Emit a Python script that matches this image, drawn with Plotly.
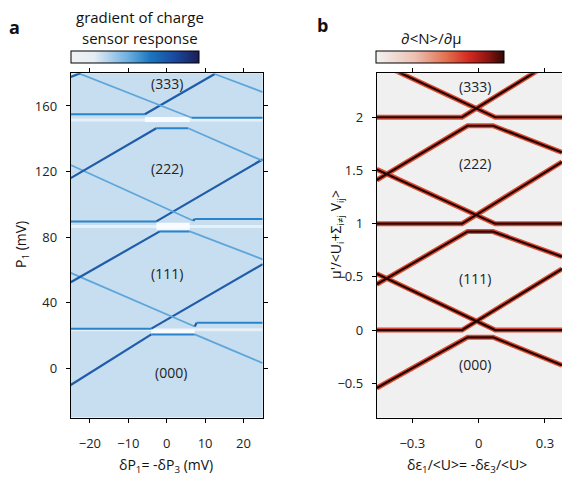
import plotly.graph_objects as go

W, H = 562, 479
FONT = "Open Sans"

# ---------------- panel a data (δP1 in mV, P1 in mV) ----------------
a_A0_x = [-25.0, -4.0, 25.0];          a_A0_y = [24.2, 24.2, 63.5]
a_A1_x = [-25.0, -2.7, 25.0];          a_A1_y = [89.6, 89.6, 127.5]
a_A2_x = [-25.0, -5.7, 12.5];          a_A2_y = [155.0, 155.0, 179.5]
a_B0_x = [-25.0, 7.3, 7.8, 25.0];      a_B0_y = [58.2, 25.5, 27.8, 27.8]
a_B1_x = [-25.0, 6.9, 7.3, 25.0];      a_B1_y = [124.0, 90.0, 91.1, 91.1]
a_B2_x = [-23.0, 6.0, 6.5, 25.0];      a_B2_y = [180.0, 153.3, 152.9, 152.9]
a_C0_x = [-25.0, -4.0, 7.3, 25.0];     a_C0_y = [-10.2, 20.7, 20.7, 3.2]
a_C1_x = [-25.0, -1.8, 6.0, 25.0];     a_C1_y = [52.5, 83.5, 83.5, 66.5]
a_C2_x = [-25.0, -2.7, 5.6, 25.0];     a_C2_y = [116.0, 146.4, 146.4, 126.5]
a_C3_x = [-25.0, -22.5];               a_C3_y = [177.7, 180.0]
a_D_x = [12.5, 25.0];                  a_D_y = [179.5, 168.5]

# white (negative gradient) bands in panel a
a_gap_x = [[-4.0, 7.3], [-2.7, 6.0], [-5.7, 6.0]]
a_gap_y = [22.4, 86.6, 151.8]
a_gap_w = [4, 7, 5]
a_stripe_y = [23.5, 86.5, 151.5]

a_labels = ["(333)", "(222)", "(111)", "(000)"]
a_label_x = [0.0, 0.0, 0.0, 1.1]
a_label_y = [174.0, 122.0, 58.0, -2.3]

a_xticks = [-20, -10, 0, 10, 20]
a_yticks = [0, 40, 80, 120, 160]

# ---------------- panel b data (δε1/<U>, μ'/<...>) ----------------
b_A0_x = [-0.461, -0.075, 0.377];         b_A0_y = [0.0, 0.0, 0.575]
b_A1_x = [-0.461, -0.075, 0.377];         b_A1_y = [1.0, 1.0, 1.58]
b_A2_x = [-0.461, -0.075, 0.377];         b_A2_y = [2.0, 2.0, 2.58]
b_B0_x = [-0.461, 0.075, 0.377];          b_B0_y = [0.53, 0.0, 0.0]
b_B1_x = [-0.461, 0.075, 0.377];          b_B1_y = [1.51, 1.0, 1.0]
b_B2_x = [-0.461, 0.075, 0.377];          b_B2_y = [2.52, 2.0, 2.0]
b_C0_x = [-0.461, -0.05, 0.065, 0.377];   b_C0_y = [-0.545, -0.068, -0.068, -0.33]
b_C1_x = [-0.461, -0.05, 0.065, 0.377];   b_C1_y = [0.43, 0.925, 0.925, 0.69]
b_C2_x = [-0.461, -0.05, 0.065, 0.377];   b_C2_y = [1.41, 1.92, 1.92, 1.67]

b_labels = ["(333)", "(222)", "(111)", "(000)"]
b_label_x = [-0.018, -0.015, -0.015, -0.015]
b_label_y = [2.29, 1.57, 0.48, -0.32]

b_xticks = [-0.3, 0, 0.3]
b_yticks = [-0.5, 0, 0.5, 1, 1.5, 2]

# ---------------- layout geometry ----------------
def px(x): return x / W
def py(y): return 1 - y / H

a_xdom = [px(70.7), px(262.7)]
b_xdom = [px(376.7), 1.0]
ydom = [py(417.5), py(73.2)]

fig = go.Figure()

# panel a: white bands
for yv in a_stripe_y:
    fig.add_trace(go.Scatter(x=[-25, 25], y=[yv, yv], mode="lines",
                             line=dict(color="rgba(255,255,255,0.55)", width=3),
                             xaxis="x", yaxis="y", hoverinfo="skip", showlegend=False))
for xs, yv, wv in zip(a_gap_x, a_gap_y, a_gap_w):
    fig.add_trace(go.Scatter(x=xs, y=[yv, yv], mode="lines",
                             line=dict(color="rgba(250,252,255,0.95)", width=wv),
                             xaxis="x", yaxis="y", hoverinfo="skip", showlegend=False))

a_lines = [(a_A0_x, a_A0_y), (a_A1_x, a_A1_y), (a_A2_x, a_A2_y),
           (a_B0_x, a_B0_y), (a_B1_x, a_B1_y), (a_B2_x, a_B2_y),
           (a_C0_x, a_C0_y), (a_C1_x, a_C1_y), (a_C2_x, a_C2_y),
           (a_C3_x, a_C3_y), (a_D_x, a_D_y)]

def seg_style(x0, y0, x1, y1):
    s = (y1 - y0) / (x1 - x0)
    if s > 0.3:
        return "#1f5caa", 2.2
    if s < -0.3:
        return "#5ea6da", 1.8
    return "#2a84cc", 2.0

for xs, ys in a_lines:
    for i in range(len(xs) - 1):
        c, w = seg_style(xs[i], ys[i], xs[i + 1], ys[i + 1])
        fig.add_trace(go.Scatter(x=xs[i:i + 2], y=ys[i:i + 2], mode="lines",
                                 line=dict(color=c, width=w),
                                 xaxis="x", yaxis="y", hoverinfo="skip", showlegend=False))

# panel b lines: red glow + dark core
b_lines = [(b_A0_x, b_A0_y), (b_A1_x, b_A1_y), (b_A2_x, b_A2_y),
           (b_B0_x, b_B0_y), (b_B1_x, b_B1_y), (b_B2_x, b_B2_y),
           (b_C0_x, b_C0_y), (b_C1_x, b_C1_y), (b_C2_x, b_C2_y)]
for xs, ys in b_lines:
    fig.add_trace(go.Scatter(x=xs, y=ys, mode="lines",
                             line=dict(color="#dd4a2e", width=5),
                             xaxis="x2", yaxis="y2", hoverinfo="skip", showlegend=False))
for xs, ys in b_lines:
    fig.add_trace(go.Scatter(x=xs, y=ys, mode="lines",
                             line=dict(color="#230604", width=2.2),
                             xaxis="x2", yaxis="y2", hoverinfo="skip", showlegend=False))

# colorbars (dummy traces outside visible ranges)
cs_a = [[0, "#f2f2f2"], [0.18, "#e4edf5"], [0.45, "#6aaedf"], [0.62, "#1b76c0"],
        [0.82, "#1a479c"], [1, "#1b1d55"]]
cs_b = [[0, "#f2f2f2"], [0.3, "#ecc2b4"], [0.55, "#e2704f"], [0.72, "#d52a22"],
        [0.88, "#8a1410"], [1, "#300806"]]

def cbar(xc, cs):
    return dict(color=[0, 1], cmin=0, cmax=1, colorscale=cs, showscale=True, size=1,
                colorbar=dict(orientation="h", xref="paper", yref="paper",
                              x=xc, xanchor="center", y=py(50.7), yanchor="top",
                              len=128, lenmode="pixels", thickness=12, thicknessmode="pixels",
                              outlinewidth=1, outlinecolor="black", xpad=0, ypad=0,
                              showticklabels=False, ticks=""))

fig.add_trace(go.Scatter(x=[0, 0], y=[-1000, -1000], mode="markers", marker=cbar(px(135), cs_a),
                         xaxis="x", yaxis="y", hoverinfo="skip", showlegend=False))
fig.add_trace(go.Scatter(x=[0, 0], y=[-1000, -1000], mode="markers", marker=cbar(px(440), cs_b),
                         xaxis="x2", yaxis="y2", hoverinfo="skip", showlegend=False))

axis_common = dict(showgrid=False, zeroline=False, showline=True, linecolor="black", linewidth=1,
                   ticks="outside", ticklen=4, tickwidth=1, tickcolor="black",
                   tickfont=dict(family=FONT, size=13, color="#222"))

fig.update_layout(
    width=W, height=H, margin=dict(l=0, r=0, t=0, b=0, autoexpand=False),
    paper_bgcolor="white", plot_bgcolor="white",
    xaxis=dict(domain=a_xdom, range=[-25, 25], tickvals=a_xticks, mirror="allticks",
               anchor="y", ticklabelstandoff=10, **axis_common),
    yaxis=dict(domain=ydom, range=[-30, 180], tickvals=a_yticks, mirror="allticks",
               anchor="x", ticklabelstandoff=6, **axis_common),
    xaxis2=dict(domain=b_xdom, range=[-0.461, 0.377], tickvals=b_xticks, mirror="allticks",
                anchor="y2", ticklabelstandoff=10, **axis_common),
    yaxis2=dict(domain=ydom, range=[-0.822, 2.414], tickvals=b_yticks, mirror=False,
                anchor="x2", ticklabelstandoff=6, **axis_common),
    shapes=[
        dict(type="rect", xref="x domain", yref="y domain", x0=0, x1=1, y0=0, y1=1,
             fillcolor="#c7def0", line=dict(width=0), layer="below"),
        dict(type="rect", xref="x2 domain", yref="y2 domain", x0=0, x1=1, y0=0, y1=1,
             fillcolor="#f0f0f0", line=dict(width=0), layer="below"),
    ],
)

ann = []
lab_font = dict(family=FONT, size=14, color="#222")
for t, xv, yv in zip(a_labels, a_label_x, a_label_y):
    ann.append(dict(text=t, x=xv, y=yv, xref="x", yref="y", showarrow=False, font=lab_font))
for t, xv, yv in zip(b_labels, b_label_x, b_label_y):
    ann.append(dict(text=t, x=xv, y=yv, xref="x2", yref="y2", showarrow=False, font=lab_font))

def pann(text, x, y, size=14, angle=0, bold=False):
    f = dict(family=FONT, size=size, color="#111")
    if bold:
        text = "<b>" + text + "</b>"
    ann.append(dict(text=text, x=px(x), y=py(y), xref="paper", yref="paper", showarrow=False,
                    textangle=angle, font=f, xanchor="center", yanchor="middle"))

pann("a", 14, 27, size=18, bold=True)
pann("b", 322, 25, size=18, bold=True)
pann("gradient of charge", 140, 17, size=15)
pann("sensor response", 140, 38, size=15)
pann("∂&lt;N&gt;/∂μ", 431, 38, size=15)
pann("P<sub>1</sub> (mV)", 21, 245, angle=-90)
pann("δP<sub>1</sub>= -δP<sub>3</sub> (mV)", 166, 465)
pann("μ'/&lt;U<sub>i</sub>+Σ<sub>i≠j</sub> V<sub>ij</sub>&gt;", 336, 235, angle=-90)
pann("δε<sub>1</sub>/&lt;U&gt;= -δε<sub>3</sub>/&lt;U&gt;", 467, 465)
fig.update_layout(annotations=ann)

fig.write_html("out.html")
